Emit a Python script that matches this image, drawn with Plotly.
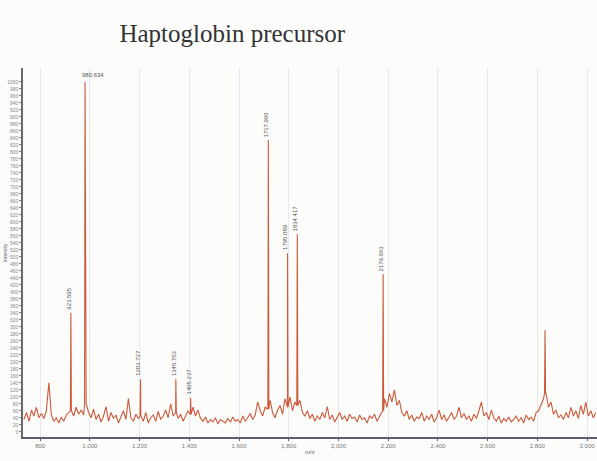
import plotly.graph_objects as go

# ---- data ----
noise_start = 735
noise_step = 10
noise_intensity = [
    35, 55, 30, 62, 45, 70, 40, 52, 38, 60,
    140, 48, 30, 40, 25, 42, 30, 48, 55, 60,
    45, 70, 50, 62, 48, 80, 55, 40, 65, 35,
    50, 28, 45, 72, 30, 55, 38, 48, 25, 42,
    60, 35, 95, 40, 30, 50, 38, 45, 30, 55,
    25, 40, 48, 30, 58, 35, 45, 62, 40, 80,
    45, 55, 38, 50, 30, 45, 60, 50, 70, 45,
    62, 38, 30, 42, 25, 35, 28, 40, 22, 35,
    30, 25, 38, 28, 42, 30, 35, 25, 45, 30,
    40, 52, 35, 48, 85, 60, 45, 70, 65, 90,
    55, 40, 62, 75, 50, 95, 70, 100, 60, 85,
    75, 90, 55, 45, 60, 38, 50, 30, 45, 35,
    55, 40, 72, 35, 48, 28, 42, 55, 35, 45,
    30, 50, 38, 42, 28, 48, 35, 40, 25, 45,
    38, 50, 30, 45, 60, 95, 70, 110, 85, 120,
    75, 90, 55, 45, 60, 35, 48, 30, 42, 38,
    55, 30, 45, 35, 50, 28, 40, 62, 35, 48,
    30, 42, 55, 35, 45, 70, 40, 52, 35, 45,
    30, 50, 38, 60, 85, 45, 55, 35, 62, 40,
    30, 45, 25, 38, 30, 42, 28, 35, 45, 30,
    40, 25, 48, 35, 42, 30, 55, 60, 80, 95,
    110, 70, 85, 50, 62, 40, 48, 35, 55, 40,
    70, 45, 60, 38, 75, 50, 85, 45, 60, 40,
    55,
]

peak_mz = [923.595, 980.634, 1203.727, 1345.763, 1405.237,
           1717.906, 1795.089, 1834.417, 2179.663, 2831.0]
peak_intensity = [340, 1000, 150, 150, 97, 834, 510, 565, 450, 290]
peak_labelled = [True, True, True, True, True, True, True, True, True, False]

x_tick_values = [800, 1000, 1200, 1400, 1600, 1800, 2000, 2200, 2400, 2600, 2800, 3000]
y_tick_values = list(range(0, 1001, 20))

# ---- build the spectrum line ----
noise_mz = [noise_start + noise_step * i for i in range(len(noise_intensity))]
points = list(zip(noise_mz, noise_intensity))


def nearest_noise(m):
    idx = min(range(len(noise_mz)), key=lambda k: abs(noise_mz[k] - m))
    return noise_intensity[idx]


for m, h in zip(peak_mz, peak_intensity):
    base = nearest_noise(m)
    points += [(m - 2.0, base), (m, h), (m + 2.0, base)]
points.sort()
spec_x = [p[0] for p in points]
spec_y = [p[1] for p in points]

fig = go.Figure()
fig.add_trace(go.Scatter(
    x=spec_x, y=spec_y, mode="lines",
    line=dict(color="#cc5a3c", width=1.1),
    hoverinfo="skip", showlegend=False,
))

annotations = []
for m, h, lab in zip(peak_mz, peak_intensity, peak_labelled):
    if not lab:
        continue
    if h >= 950:
        annotations.append(dict(
            x=m, y=h, xref="x", yref="y", text=f"{m:,.3f}".replace(",", ""),
            showarrow=False, xanchor="left", yanchor="bottom", xshift=-5, yshift=2,
            font=dict(size=6, color="#555", family="Liberation Sans"),
        ))
    else:
        annotations.append(dict(
            x=m, y=h, xref="x", yref="y", text=f"{m:,.3f}".replace(",", ""),
            showarrow=False, textangle=-90, xanchor="center", yanchor="bottom",
            xshift=-2, yshift=1,
            font=dict(size=6, color="#555", family="Liberation Sans"),
        ))

annotations.append(dict(
    text="m/z", xref="paper", yref="paper", x=0.5, y=-0.04,
    xanchor="center", yanchor="middle", showarrow=False,
    font=dict(size=6, color="#666", family="Liberation Sans"),
))
annotations.append(dict(
    text="Intensity", xref="paper", yref="paper", x=-0.032, y=0.5,
    textangle=-90, xanchor="center", yanchor="middle", showarrow=False,
    font=dict(size=5, color="#666", family="Liberation Sans"),
))

fig.update_layout(
    width=597, height=461,
    margin=dict(l=23, r=0, t=68, b=24, autoexpand=False),
    paper_bgcolor="#fcfcfb", plot_bgcolor="#fcfcfb",
    title=dict(
        text="Haptoglobin precursor",
        x=0.389, xanchor="center", y=0.928, yanchor="middle",
        font=dict(family="Liberation Serif, DejaVu Serif, serif", size=25, color="#333"),
    ),
    annotations=annotations,
    xaxis=dict(
        range=[731, 3040], tickvals=x_tick_values,
        ticktext=[f"{v:,}" for v in x_tick_values],
        automargin=False,
        showgrid=True, gridcolor="#e6e8ef", gridwidth=1,
        showline=True, linecolor="#5a5f70", linewidth=1.5,
        ticks="outside", ticklen=2, tickcolor="#5a5f70",
        tickfont=dict(size=6, color="#777", family="Liberation Sans"),
        zeroline=False,
    ),
    yaxis=dict(
        range=[-15, 1040], tickvals=y_tick_values,
        automargin=False,
        showgrid=False,
        showline=True, linecolor="#6a6a6a", linewidth=1.5,
        ticks="outside", ticklen=2, tickcolor="#888",
        tickfont=dict(size=5, color="#888", family="Liberation Sans"),
        zeroline=False,
    ),
)

fig.write_html("out.html", config={"displayModeBar": False},
               post_script="document.body.style.margin='0';")
